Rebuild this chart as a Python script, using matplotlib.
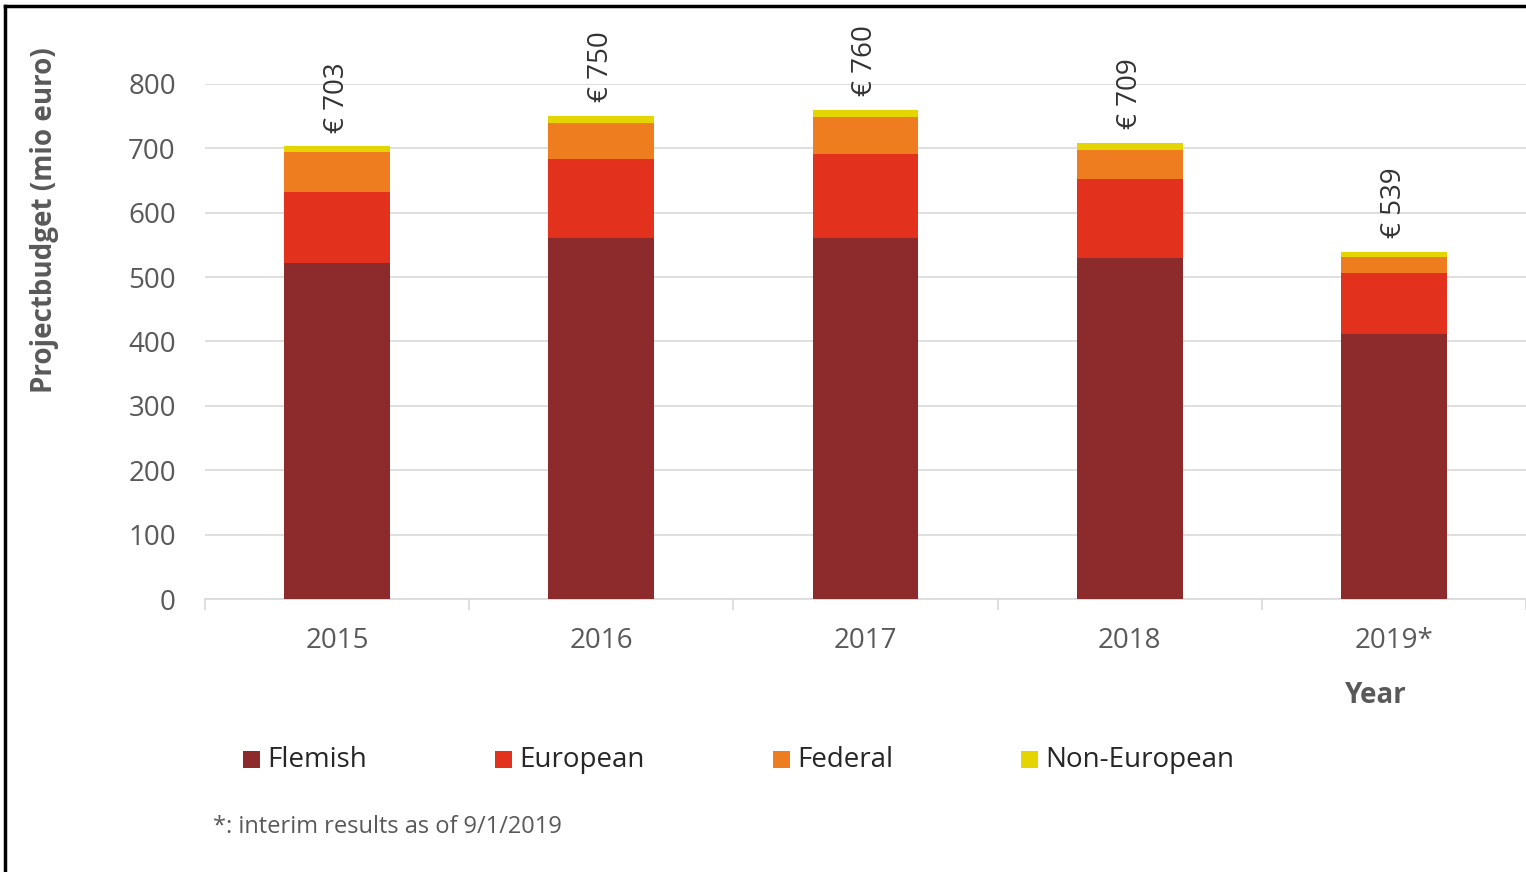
import matplotlib
matplotlib.use("Agg")
import matplotlib.pyplot as plt
from matplotlib.lines import Line2D
import numpy as np

years = ["2015", "2016", "2017", "2018", "2019*"]
flemish = [522, 561, 560, 529, 411]
european = [110, 123, 131, 124, 96]
federal = [62, 56, 58, 44, 24]
non_european = [9, 10, 11, 12, 8]
totals = [703, 750, 760, 709, 539]
series_names = ["Flemish", "European", "Federal", "Non-European"]
colors = ["#8C2A2C", "#E2321E", "#EE7D20", "#E4D500"]

plt.rcParams['font.family'] = ['Open Sans', 'DejaVu Sans']
gray = "#595959"

fig = plt.figure(figsize=(15.26, 8.72), dpi=100)
ax = fig.add_axes([205/1526, 1-599/872, 1-205/1526, (599-84)/872])

x = np.arange(len(years))
bottom = np.zeros(len(years))
for vals, c in zip([flemish, european, federal, non_european], colors):
    ax.bar(x, vals, width=0.4, bottom=bottom, color=c, zorder=3)
    bottom += np.array(vals)

for xi, t in zip(x, totals):
    ax.annotate(f"€ {t}", (xi, t), xytext=(0, 10), textcoords="offset points",
                rotation=90, ha="center", va="bottom", fontsize=20, color="#333333",
                annotation_clip=False)

ax.set_xlim(-0.5, len(years) - 0.5)
ax.set_ylim(0, 800)
ax.set_yticks(range(0, 801, 100))
ax.grid(axis="y", color="#d9d9d9", linewidth=1.2, zorder=0)
for s in ["top", "right", "left"]:
    ax.spines[s].set_visible(False)
ax.spines["bottom"].set_color("#d9d9d9")
ax.spines["bottom"].set_linewidth(1.2)
ax.tick_params(axis="y", length=0, labelsize=20, labelcolor=gray, pad=21)
ax.set_xticks(x)
ax.set_xticklabels(years)
ax.set_xticks(np.arange(-0.5, len(years), 1), minor=True)
ax.tick_params(axis="x", which="major", length=0, labelsize=20, labelcolor=gray, pad=20)
ax.tick_params(axis="x", which="minor", length=8, color="#d9d9d9", width=1.2)

fig.text(45/1526, 1-220/872, "Projectbudget (mio euro)", rotation=90, ha="center", va="center",
         fontsize=20, fontweight="bold", color=gray)
fig.text(1376/1526, 1-695/872, "Year", ha="center", va="center",
         fontsize=20, fontweight="bold", color=gray)

leg_x = [243, 495, 773, 1021]
for hx, name, c in zip(leg_x, series_names, colors):
    fig.patches.append(plt.Rectangle((hx/1526, 1-768/872), 17/1526, 17/872,
                                     transform=fig.transFigure, facecolor=c, edgecolor="none"))
    fig.text((hx+24)/1526, 1-760/872, name, ha="left", va="center", fontsize=20, color="#262626")

fig.text(213/1526, 1-827/872, "*: interim results as of 9/1/2019", ha="left", va="center",
         fontsize=17, color=gray)

# frame lines
fig.add_artist(Line2D([5/1526, 1], [1-6/872, 1-6/872], color="black", linewidth=2.5,
                      transform=fig.transFigure))
fig.add_artist(Line2D([5/1526, 5/1526], [0, 1-6/872], color="black", linewidth=2.5,
                      transform=fig.transFigure))

fig.savefig("out.png", dpi=100)
